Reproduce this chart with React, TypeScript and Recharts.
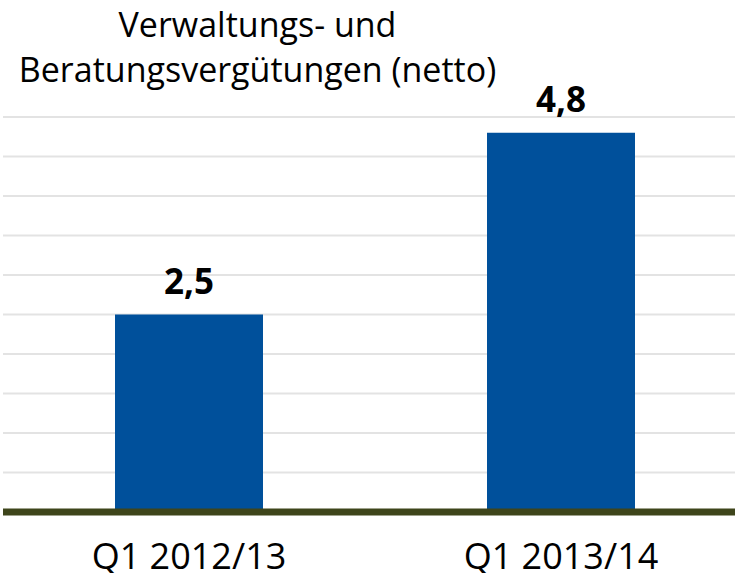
import React from "react";
import { BarChart, Bar, XAxis, YAxis, CartesianGrid, LabelList } from "recharts";

const categories = ["Q1 2012/13", "Q1 2013/14"];
const values = [2.5, 4.8];
const yTicks = [0, 0.5, 1, 1.5, 2, 2.5, 3, 3.5, 4, 4.5, 5];
const titleLines = ["Verwaltungs- und", "Beratungsvergütungen (netto)"];

const data = categories.map((c, i) => ({ category: c, value: values[i] }));

const FONT = "'Open Sans', 'Noto Sans', sans-serif";

const XTick = (props: any) => {
  const { x, y, payload } = props;
  return (
    <text x={x} y={y} dy={49} textAnchor="middle" fontFamily={FONT} fontSize={36} fill="#000">
      {payload.value}
    </text>
  );
};

export default function App() {
  return (
    <div style={{ position: "absolute", left: 0, top: 0, width: 735, height: 573, overflow: "hidden", background: "#fff" }}>
      <div
        style={{
          position: "absolute",
          left: 0,
          top: 0,
          width: 515,
          textAlign: "center",
          fontFamily: FONT,
          fontSize: 34,
          lineHeight: "45px",
          color: "#000",
          paddingTop: 2,
          zIndex: 2,
          whiteSpace: "nowrap",
        }}
      >
        {titleLines.map((t) => (
          <div key={t}>{t}</div>
        ))}
      </div>
      <BarChart width={750} height={573} data={data} margin={{ top: 117, right: 3, left: 3, bottom: 0 }}>
        <CartesianGrid horizontal vertical={false} stroke="#e3e3e3" strokeWidth={2} />
        <YAxis hide domain={[0, 5]} ticks={yTicks} type="number" />
        <XAxis
          dataKey="category"
          height={61}
          axisLine={{ stroke: "#3e451b", strokeWidth: 7 }}
          tickLine={false}
          tick={<XTick />}
          interval={0}
        />
        <Bar dataKey="value" fill="#00509b" barSize={148} isAnimationActive={false}>
          <LabelList
            dataKey="value"
            position="top"
            offset={21}
            formatter={(v: any) => String(v).replace(".", ",")}
            style={{ fontFamily: FONT, fontSize: 35, fontWeight: 700, fill: "#000" }}
          />
        </Bar>
      </BarChart>
    </div>
  );
}
